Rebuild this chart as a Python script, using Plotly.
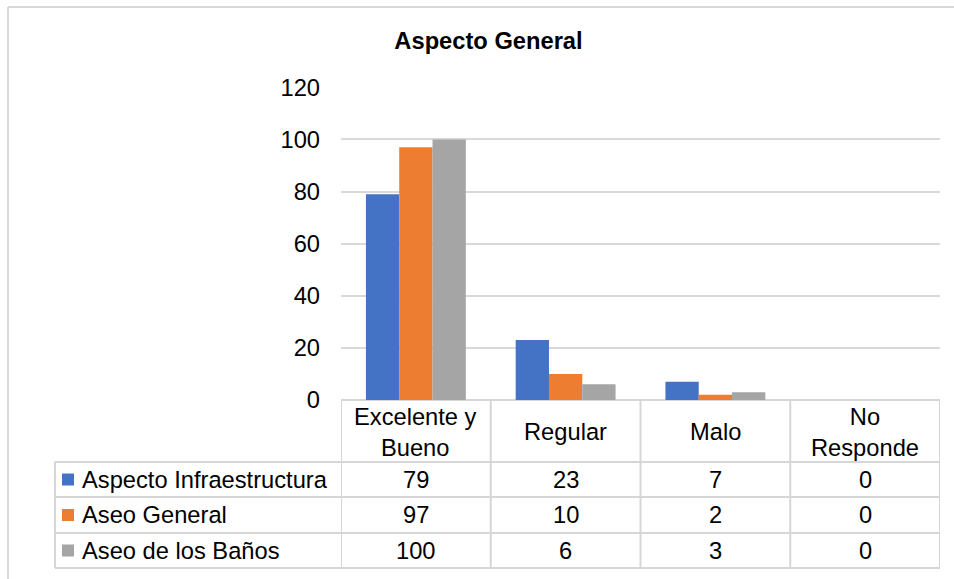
import plotly.graph_objects as go

# ---- data ----
categories = ["Excelente y Bueno", "Regular", "Malo", "No Responde"]
header_labels = ["Excelente y<br>Bueno", "Regular", "Malo", "No<br>Responde"]
series_names = ["Aspecto Infraestructura", "Aseo General", "Aseo de los Baños"]
infraestructura = [79, 23, 7, 0]
aseo_general = [97, 10, 2, 0]
aseo_banos = [100, 6, 3, 0]
series_values = [infraestructura, aseo_general, aseo_banos]
series_colors = ["#4472C4", "#ED7D31", "#A5A5A5"]
y_ticks = [0, 20, 40, 60, 80, 100, 120]
chart_title = "Aspecto General"

# ---- layout constants (pixels) ----
W, H = 954, 579
FONT = "Liberation Sans, Arial, sans-serif"
FS = 23.7
GRID = "#D9D9D9"
TBL = "#D6D6D6"
plot_left, plot_right = 341, 940
plot_top, plot_bottom = 87.3, 400
table_left = 55
header_bottom = 462
row_edges = [462, 497, 533, 568]


def px(x):
    return x / W


def py(y):
    return 1 - y / H


fig = go.Figure()
for name, vals, col in zip(series_names, series_values, series_colors):
    fig.add_trace(go.Bar(
        x=categories, y=vals, name=name,
        marker=dict(color=col, line=dict(width=0)),
        showlegend=False, hoverinfo="x+y+name",
    ))

shapes = []
annotations = []

# outer chart border
shapes.append(dict(type="line", xref="paper", yref="paper", x0=px(8), x1=px(8), y0=py(7), y1=0,
                   line=dict(color=GRID, width=2)))
shapes.append(dict(type="line", xref="paper", yref="paper", x0=px(8), x1=1, y0=py(7), y1=py(7),
                   line=dict(color=GRID, width=2)))

# table: vertical lines at category boundaries (through the x axis)
n = len(categories)
for i in range(n + 1):
    shapes.append(dict(type="line", xref="x", yref="paper", x0=i - 0.5, x1=i - 0.5,
                       y0=py(plot_bottom), y1=py(row_edges[-1]), line=dict(color=TBL, width=2)))
# left border of name column
shapes.append(dict(type="line", xref="paper", yref="paper", x0=px(table_left), x1=px(table_left),
                   y0=py(header_bottom), y1=py(row_edges[-1]), line=dict(color=TBL, width=2)))
# horizontal lines
for y in row_edges:
    shapes.append(dict(type="line", xref="paper", yref="paper", x0=px(table_left), x1=px(plot_right),
                       y0=py(y), y1=py(y), line=dict(color=TBL, width=2)))

# header labels
for cat, lab in zip(categories, header_labels):
    annotations.append(dict(x=cat, xref="x", y=py((plot_bottom + header_bottom) / 2 + 1), yref="paper",
                            text=lab, showarrow=False, xanchor="center", yanchor="middle",
                            font=dict(family=FONT, size=FS, color="#000000")))

# rows
for r, (name, vals, col) in enumerate(zip(series_names, series_values, series_colors)):
    top, bot = row_edges[r], row_edges[r + 1]
    yc = (top + bot) / 2
    shapes.append(dict(type="rect", xref="paper", yref="paper", x0=px(62), x1=px(74),
                       y0=py(yc + 6), y1=py(yc - 6), fillcolor=col, line=dict(width=0)))
    annotations.append(dict(x=px(80), xref="paper", y=py(yc), yref="paper", text=name,
                            showarrow=False, xanchor="left", yanchor="middle",
                            font=dict(family=FONT, size=FS, color="#000000")))
    for cat, v in zip(categories, vals):
        annotations.append(dict(x=cat, xref="x", y=py(yc), yref="paper", text=str(v),
                                showarrow=False, xanchor="center", yanchor="middle",
                                font=dict(family=FONT, size=FS, color="#000000")))

fig.update_layout(
    template="none",
    width=W, height=H, autosize=False,
    margin=dict(l=0, r=0, t=0, b=0, pad=0),
    paper_bgcolor="white", plot_bgcolor="white",
    barmode="group", bargap=0.333, bargroupgap=0,
    font=dict(family=FONT, size=FS, color="#000000"),
    title=dict(text="<b>" + chart_title + "</b>", x=488.5 / W, xanchor="center",
               y=py(41), yanchor="middle", font=dict(family=FONT, size=FS, color="#000000")),
    xaxis=dict(domain=[px(plot_left), px(plot_right)], range=[-0.5, n - 0.5], automargin=False,
               showticklabels=False, showgrid=False, zeroline=False, showline=False, ticks=""),
    yaxis=dict(domain=[py(plot_bottom), py(plot_top)], range=[0, 120], tickvals=y_ticks,
               automargin=False,
               showgrid=True, gridcolor=GRID, gridwidth=1.5, zeroline=True, zerolinecolor=TBL,
               zerolinewidth=2, showline=False, ticks="", ticklabelstandoff=20,
               tickfont=dict(family=FONT, size=FS, color="#000000")),
    shapes=shapes, annotations=annotations,
)

fig.write_html("out.html")
